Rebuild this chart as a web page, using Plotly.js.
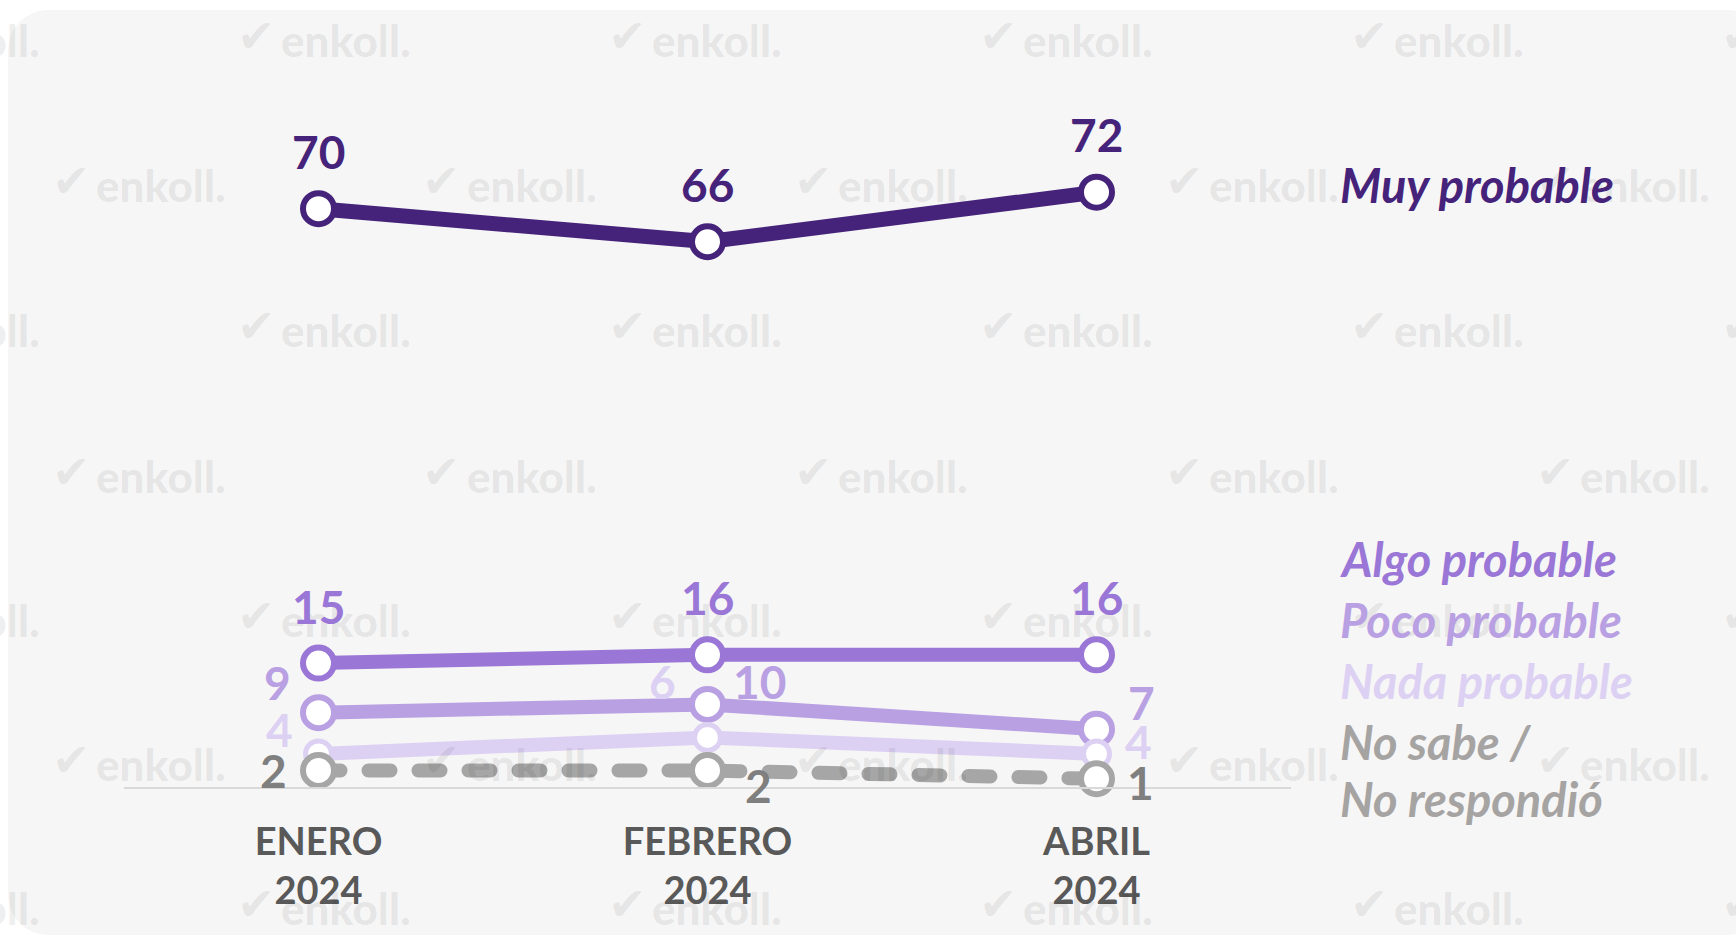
<!DOCTYPE html>
<html>
<head>
<meta charset="utf-8">
<script src="https://cdn.plot.ly/plotly-3.0.1.min.js"></script>
<style>
  html, body { margin: 0; padding: 0; width: 1736px; height: 938px; overflow: hidden; background: #ffffff; }
  #bg { position: absolute; left: 8px; top: 10px; width: 1760px; height: 925px; border-radius: 40px; background: #f6f6f6; }
  #chart { position: absolute; left: 0; top: 0; width: 1736px; height: 938px; }
  .scatterlayer .js-line { stroke-linecap: round !important; }
</style>
</head>
<body>
<div id="bg"></div>
<div id="chart"></div>
<script>
// ---- data ----
const months = ['ENERO<br>2024', 'FEBRERO<br>2024', 'ABRIL<br>2024'];
const muyProbable = [70, 66, 72];
const algoProbable = [15, 16, 16];
const pocoProbable = [9, 10, 7];
const nadaProbable = [4, 6, 4];
const noSabe = [2, 2, 1];
const seriesNames = ['Muy probable', 'Algo probable', 'Poco probable', 'Nada probable', 'No sabe /<br>No respondió'];

// ---- styles ----
const colors = ['#46237a', '#9a76d6', '#b9a0e3', '#ddd1f3', '#a6a6a6'];
const labelColors = ['#46237a', '#9a76d6', '#b9a0e3', '#ddd1f3', '#7f7f7f'];
const legendColors = ['#46237a', '#9a76d6', '#b9a0e3', '#ddd1f3', '#a6a3a3'];
const lineWidths = [15, 14, 14, 14, 14];
const markerSizes = [31, 31, 31, 26, 31];
const markerLineWidths = [6, 6, 6, 5, 6];
const series = [muyProbable, algoProbable, pocoProbable, nadaProbable, noSabe];

// label offsets (px) per series per point: [xshift, yshift]
const labelOffsets = [
  [[0, 57], [0, 57], [0, 58]],
  [[0, 57], [0, 57], [0, 57]],
  [[-41, 30], [52, 23], [45, 27]],
  [[-39, 24], [-45, 56], [42, 12]],
  [[-45, 0], [51, -15], [44, -4]]
];

// plot geometry (px)
const W = 1736, H = 938;
const M = { l: 124, r: 445, t: 60, b: 151 };
const pw = W - M.l - M.r, ph = H - M.t - M.b;
const px2x = (px) => (px - M.l) / pw;
const py2y = (py) => (H - M.b - py) / ph;

const FONT = 'Lato, "Open Sans", "Noto Sans", sans-serif';

const traces = series.map((vals, i) => ({
  type: 'scatter',
  mode: 'lines+markers',
  x: months,
  y: vals,
  name: seriesNames[i],
  line: { color: colors[i], width: lineWidths[i], dash: i === 4 ? '22px,28px' : 'solid' },
  marker: { symbol: 'circle', size: markerSizes[i], color: '#ffffff', line: { color: colors[i], width: markerLineWidths[i] } },
  hoverinfo: 'x+y+name',
  cliponaxis: false
}));

const annotations = [];

// watermarks
const wmRowsY = [40, 185, 330, 476, 620, 764, 908];
const wmColsA = [-25, 346, 717, 1088, 1459, 1830];
const wmColsB = [161, 532, 903, 1274, 1645];
wmRowsY.forEach((py, r) => {
  const cols = (r % 2 === 0) ? wmColsA : wmColsB;
  cols.forEach((cx) => {
    annotations.push({
      xref: 'paper', yref: 'paper', x: px2x(cx), y: py2y(py),
      xanchor: 'center', yanchor: 'middle', showarrow: false,
      text: 'enkoll.', font: { family: FONT, size: 44, weight: 900, color: 'rgba(0,0,0,0.08)' }
    });
    annotations.push({
      xref: 'paper', yref: 'paper', x: px2x(cx - 90), y: py2y(py - 4),
      xanchor: 'center', yanchor: 'middle', showarrow: false,
      text: '\u2714', font: { family: '"DejaVu Sans", sans-serif', size: 46, weight: 700, color: 'rgba(0,0,0,0.08)' }
    });
  });
});

// data labels
series.forEach((vals, i) => {
  vals.forEach((v, j) => {
    annotations.push({
      x: months[j], y: v, xref: 'x', yref: 'y',
      xshift: labelOffsets[i][j][0], yshift: labelOffsets[i][j][1],
      xanchor: 'center', yanchor: 'middle', showarrow: false,
      text: String(v),
      font: { family: FONT, size: 46, weight: 700, color: labelColors[i] }
    });
  });
});

// right-side series labels
const legendY = [185, 559, 620, 681, 742, 799];
const legendTexts = ['Muy probable', 'Algo probable', 'Poco probable', 'Nada probable', 'No sabe /', 'No respondió'];
const legendColorIdx = [0, 1, 2, 3, 4, 4];
legendTexts.forEach((t, k) => {
  annotations.push({
    xref: 'paper', yref: 'paper', x: px2x(1338), y: py2y(legendY[k]),
    xanchor: 'left', yanchor: 'middle', showarrow: false,
    text: t,
    font: { family: FONT, size: 47, weight: 700, style: 'italic', color: legendColors[legendColorIdx[k]] }
  });
});

const layout = {
  width: W, height: H,
  margin: M,
  paper_bgcolor: 'rgba(0,0,0,0)',
  plot_bgcolor: 'rgba(0,0,0,0)',
  showlegend: false,
  xaxis: {
    type: 'category',
    range: [-0.5, 2.5],
    showgrid: false, zeroline: false,
    showline: true, linecolor: '#d9d9d9', linewidth: 2,
    ticks: '', ticklabelstandoff: 20,
    tickfont: { family: FONT, size: 38, weight: 700, color: '#595959' },
    fixedrange: true
  },
  yaxis: {
    range: [0, 88],
    showgrid: false, zeroline: false, showline: false,
    showticklabels: false, ticks: '',
    fixedrange: true
  },
  annotations: annotations
};

Plotly.newPlot('chart', traces, layout, { displayModeBar: false, staticPlot: true });
</script>
</body>
</html>
